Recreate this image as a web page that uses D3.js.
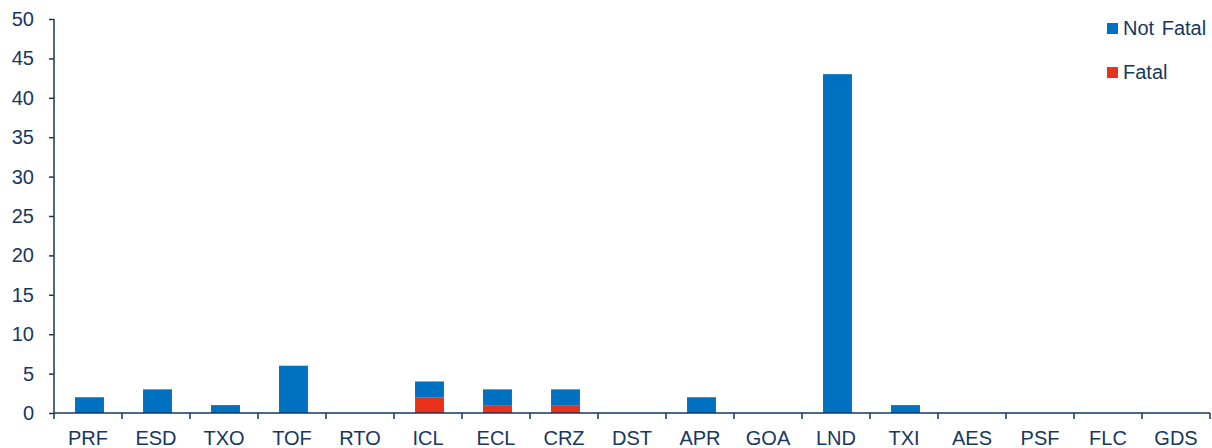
<!DOCTYPE html>
<html><head><meta charset="utf-8">
<script src="https://cdn.jsdelivr.net/npm/d3@7"></script>
<style>body{margin:0;background:#fff;} svg{display:block;font-family:"Liberation Sans",Arial,sans-serif;}</style>
</head><body>
<svg id="c" width="1212" height="448"></svg>
<script>
const categories = ["PRF","ESD","TXO","TOF","RTO","ICL","ECL","CRZ","DST","APR","GOA","LND","TXI","AES","PSF","FLC","GDS"];
const fatal    = [0,0,0,0,0,2,1,1,0,0,0,0,0,0,0,0,0];
const notFatal = [2,3,1,6,0,2,2,2,0,2,0,43,1,0,0,0,0];
const yTicks = [0,5,10,15,20,25,30,35,40,45,50];
const seriesNames = ["Fatal","Not Fatal"];
const colors = {"Fatal":"#E8321A","Not Fatal":"#0070C0"};
const textColor = "#17375E";

const svg = d3.select("#c");
const x0 = 54, x1 = 1210, yBase = 413, yTop = 19;
const x = d3.scaleBand().domain(categories).range([x0, x1]).paddingInner(0.575).paddingOuter(0.2875);
const y = d3.scaleLinear().domain([0,50]).range([yBase, yTop]);

const rows = categories.map((c,i)=>({cat:c,"Fatal":fatal[i],"Not Fatal":notFatal[i]}));
const stack = d3.stack().keys(seriesNames)(rows);

svg.append("g").attr("transform","translate(1.5,0)")
  .selectAll("g").data(stack).join("g")
  .attr("fill", d=>colors[d.key])
  .selectAll("rect").data(d=>d).join("rect")
  .attr("x", d=>x(d.data.cat))
  .attr("width", x.bandwidth())
  .attr("y", d=>y(d[1]))
  .attr("height", d=>y(d[0])-y(d[1]));

// Y axis
const ya = svg.append("g").attr("transform",`translate(${x0},0)`)
  .call(d3.axisLeft(y).tickValues(yTicks).tickSize(5).tickPadding(15).tickSizeOuter(0));
ya.select(".domain").attr("stroke",textColor).attr("stroke-width",1.5).attr("d",`M0,${yBase}V${yTop}`);
ya.selectAll(".tick line").attr("stroke",textColor).attr("stroke-width",1.5);
ya.selectAll(".tick text").attr("fill",textColor).style("font-size","20px").style("font-family","Liberation Sans, Arial, sans-serif");

// X axis with boundary ticks
const xa = svg.append("g").attr("transform",`translate(0,${yBase})`);
xa.append("line").attr("x1",x0).attr("x2",x1).attr("y1",0).attr("y2",0).attr("stroke",textColor).attr("stroke-width",1.5);
const step = x.step();
const bounds = categories.map(c=>x(c) - x.paddingInner()*step/2).concat([x1]);
xa.selectAll("line.b").data(bounds).join("line").attr("class","b")
  .attr("x1",d=>d).attr("x2",d=>d).attr("y1",0).attr("y2",6)
  .attr("stroke",textColor).attr("stroke-width",1.5);
xa.selectAll("text").data(categories).join("text")
  .attr("x",d=>x(d)+x.bandwidth()/2).attr("y",31.5)
  .attr("text-anchor","middle").attr("fill",textColor).style("font-size","20px")
  .text(d=>d);

// Legend
const legendItems = ["Not Fatal","Fatal"];
const lg = svg.append("g");
legendItems.forEach((k,i)=>{
  const yy = 23 + i*44;
  lg.append("rect").attr("x",1107).attr("y",yy).attr("width",11).attr("height",11).attr("fill",colors[k]);
  lg.append("text").attr("x",1123).attr("y",yy+12).attr("fill",textColor).style("font-size","20px").style("word-spacing","2px").text(k);
});
</script>
</body></html>
